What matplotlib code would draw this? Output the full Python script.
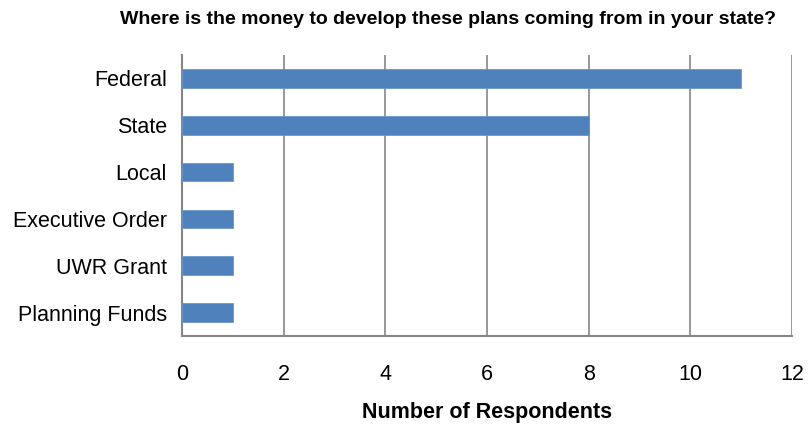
import matplotlib.pyplot as plt

plt.rcParams['font.family'] = ['Liberation Sans', 'DejaVu Sans']

categories = ["Federal", "State", "Local", "Executive Order", "UWR Grant", "Planning Funds"]
respondents = [11, 8, 1, 1, 1, 1]
x_ticks = [0, 2, 4, 6, 8, 10, 12]

fig = plt.figure(figsize=(8.09, 4.25), dpi=100)
ax = fig.add_axes([0.225, 0.209, 0.754, 0.662])

ypos = list(range(len(categories)))
ax.barh(ypos, respondents, height=0.4, color="#4F81BD", edgecolor="#6B97CC", linewidth=0.6, zorder=3)

ax.set_xlim(0, 12)
ax.set_ylim(len(categories) - 0.5, -0.5)
ax.set_xticks(x_ticks)
ax.set_yticks(ypos)
ax.set_yticklabels(categories)
ax.tick_params(axis="both", length=0, labelsize=15.5)
ax.tick_params(axis="x", pad=20)
ax.tick_params(axis="y", pad=11)

ax.grid(axis="x", color="#868686", linewidth=1.2, zorder=0)
for side in ["top", "right"]:
    ax.spines[side].set_visible(False)
for side in ["left", "bottom"]:
    ax.spines[side].set_color("#868686")
    ax.spines[side].set_linewidth(1.5)

ax.set_xlabel("Number of Respondents", fontsize=15.5, fontweight="bold", labelpad=12)
fig.suptitle("Where is the money to develop these plans coming from in your state?",
             fontsize=14, fontweight="bold", x=0.554, y=0.973)

fig.savefig("out.png", dpi=100)
